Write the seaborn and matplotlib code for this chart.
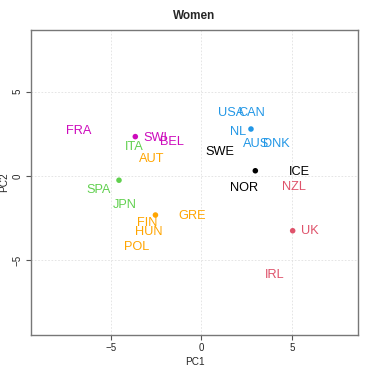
import matplotlib
matplotlib.use("Agg")
import matplotlib.pyplot as plt
import seaborn as sns
import pandas as pd

countries = ["FRA", "SWI", "BEL", "ITA", "AUT", "SPA", "JPN",
             "USA", "CAN", "NL", "AUS", "DNK", "SWE", "ICE", "NOR", "NZL",
             "GRE", "FIN", "HUN", "POL", "UK", "IRL"]
pc1 = [-6.76, -2.53, -1.63, -3.68, -2.74, -5.68, -4.21,
       1.65, 2.78, 2.02, 3.03, 4.14, 1.03, 5.44, 2.38, 5.12,
       -0.50, -2.98, -2.92, -3.59, 6.00, 4.04]
pc2 = [2.68, 2.27, 2.03, 1.73, 1.01, -0.83, -1.72,
       3.75, 3.75, 2.58, 1.89, 1.89, 1.40, 0.25, -0.73, -0.67,
       -2.37, -2.80, -3.30, -4.18, -3.24, -5.86]
cluster = ["5", "5", "5", "3", "6", "3", "3",
           "4", "4", "4", "4", "4", "1", "1", "1", "2",
           "6", "6", "6", "6", "2", "2"]

cent_cluster = ["1", "2", "3", "4", "5", "6"]
cent_pc1 = [2.98, 5.04, -4.54, 2.74, -3.64, -2.53]
cent_pc2 = [0.31, -3.24, -0.25, 2.78, 2.33, -2.31]

palette = {"1": "#000000", "2": "#DF536B", "3": "#61D04F",
           "4": "#2297E6", "5": "#CD0BBC", "6": "#FFA500"}

df = pd.DataFrame({"country": countries, "PC1": pc1, "PC2": pc2, "cluster": cluster})
cent = pd.DataFrame({"cluster": cent_cluster, "PC1": cent_pc1, "PC2": cent_pc2})

sns.set_style("white")
plt.rcParams["font.family"] = ["Liberation Sans", "DejaVu Sans"]

fig = plt.figure(figsize=(3.74, 3.74), dpi=100)
ax = fig.add_axes([30.7 / 374, 1 - 335 / 374, (358.3 - 30.7) / 374, (335 - 30) / 374])

for v in [-5, 0, 5]:
    ax.axvline(v, color="#e0e0e0", lw=0.6, ls=(0, (2, 2)), zorder=0)
    ax.axhline(v, color="#e0e0e0", lw=0.6, ls=(0, (2, 2)), zorder=0)

sns.scatterplot(data=cent, x="PC1", y="PC2", hue="cluster", palette=palette,
                s=16, linewidth=0, legend=False, ax=ax, zorder=3)

for _, r in df.iterrows():
    ax.text(r["PC1"], r["PC2"], r["country"], color=palette[r["cluster"]],
            ha="center", va="center", fontsize=9.2, zorder=4)

ax.set_xlim(-9.41, 8.66)
ax.set_ylim(-9.41, 8.64)
ax.set_xticks([-5, 0, 5])
ax.set_yticks([-5, 0, 5])
ax.set_xticklabels(["\u22125", "0", "5"])
ax.set_yticklabels(["\u22125", "0", "5"], rotation=90, va="center")
ax.tick_params(axis="both", direction="out", length=3.4, width=0.8, color="#555555",
               labelsize=7.0, pad=2.2, bottom=True, left=True)
for s in ax.spines.values():
    s.set_color("#777777")
    s.set_linewidth(1.0)

ax.set_xlabel("PC1", fontsize=7.2, labelpad=3)
ax.set_ylabel("PC2", fontsize=7.2, labelpad=3)
ax.set_title("Women", fontsize=8.5, fontweight="bold", pad=8)

fig.savefig("out.png", dpi=100)
